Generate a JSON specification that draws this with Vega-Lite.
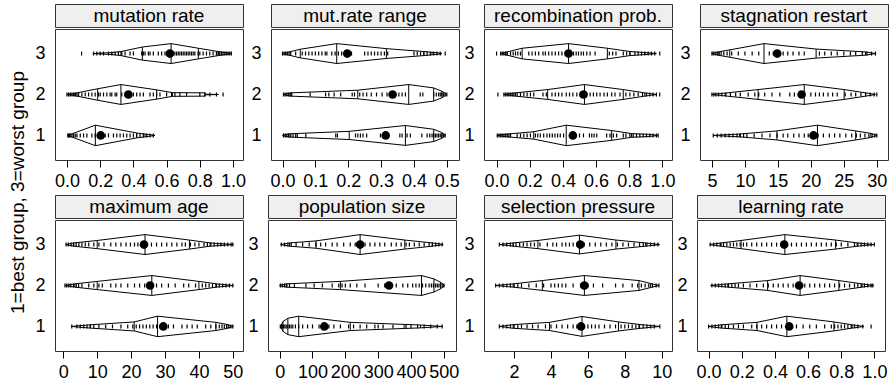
{
"$schema":"https://vega.github.io/schema/vega-lite/v6.json",
"padding":{"left":8,"top":3,"right":2,"bottom":0},
"title":{"text":"1=best group, 3=worst group","orient":"left","anchor":"middle","fontSize":19,"fontWeight":"normal","offset":4,"color":"black","font":"Liberation Sans"},
"spacing":3,
"vconcat":[
{"spacing":0,"hconcat":[
{"spacing":0,"vconcat":[
 {"width":188,"height":23,"view":{"fill":"#efefef","stroke":"#333333"},"data":{"values":[{"t":"mutation rate"}]},"mark":{"type":"text","fontSize":19,"color":"black"},"encoding":{"text":{"field":"t"}}},
 {"width":188,"height":131,"layer":[
  {"data":{"name":"poly"},"transform":[{"filter":"datum.p==1"}],"mark":{"type":"area","fill":"transparent","stroke":"black","strokeWidth":1},"encoding":{"x":{"field":"x","type":"quantitative","title":null,"scale":{"domain":[-0.072,1.06],"nice":false,"zero":false},"axis":{"values":[0,0.2,0.4,0.6,0.8,1],"format":".1f","labelOverlap":false,"labelFlush":false}},"y":{"field":"lo","type":"quantitative","title":null,"stack":null,"scale":{"domain":[0.4,3.6],"nice":false,"zero":false},"axis":{"values":[1,2,3],"format":"d","labelOverlap":false}},"y2":{"field":"hi"},"detail":{"field":"g"}}},
  {"data":{"name":"poly"},"transform":[{"filter":"datum.p==1"}],"mark":{"type":"rule","color":"black","strokeWidth":1},"encoding":{"x":{"field":"x","type":"quantitative","title":null,"axis":{"values":[0,0.2,0.4,0.6,0.8,1],"format":".1f","labelOverlap":false,"labelFlush":false}},"y":{"field":"lo","type":"quantitative","title":null,"axis":{"values":[1,2,3],"format":"d","labelOverlap":false}},"y2":{"field":"hi"}}},
  {"data":{"name":"rug"},"transform":[{"filter":"datum.p==1"},{"flatten":["xs"]}],"mark":{"type":"tick","orient":"vertical","size":4,"thickness":1.2,"color":"black","opacity":1},"encoding":{"x":{"field":"xs","type":"quantitative","title":null,"axis":{"values":[0,0.2,0.4,0.6,0.8,1],"format":".1f","labelOverlap":false,"labelFlush":false}},"y":{"field":"g","type":"quantitative","title":null,"axis":{"values":[1,2,3],"format":"d","labelOverlap":false}}}},
  {"data":{"name":"mean"},"transform":[{"filter":"datum.p==1"}],"mark":{"type":"point","filled":true,"size":75,"color":"black","opacity":1},"encoding":{"x":{"field":"x","type":"quantitative","title":null,"axis":{"values":[0,0.2,0.4,0.6,0.8,1],"format":".1f","labelOverlap":false,"labelFlush":false}},"y":{"field":"g","type":"quantitative","title":null,"axis":{"values":[1,2,3],"format":"d","labelOverlap":false}}}}
 ]}
]},
{"spacing":0,"vconcat":[
 {"width":188,"height":23,"view":{"fill":"#efefef","stroke":"#333333"},"data":{"values":[{"t":"mut.rate range"}]},"mark":{"type":"text","fontSize":19,"color":"black"},"encoding":{"text":{"field":"t"}}},
 {"width":188,"height":131,"layer":[
  {"data":{"name":"poly"},"transform":[{"filter":"datum.p==2"}],"mark":{"type":"area","fill":"transparent","stroke":"black","strokeWidth":1},"encoding":{"x":{"field":"x","type":"quantitative","title":null,"scale":{"domain":[-0.035,0.537],"nice":false,"zero":false},"axis":{"values":[0,0.1,0.2,0.3,0.4,0.5],"format":".1f","labelOverlap":false,"labelFlush":false}},"y":{"field":"lo","type":"quantitative","title":null,"stack":null,"scale":{"domain":[0.4,3.6],"nice":false,"zero":false},"axis":{"values":[1,2,3],"format":"d","labelOverlap":false}},"y2":{"field":"hi"},"detail":{"field":"g"}}},
  {"data":{"name":"poly"},"transform":[{"filter":"datum.p==2"}],"mark":{"type":"rule","color":"black","strokeWidth":1},"encoding":{"x":{"field":"x","type":"quantitative","title":null,"axis":{"values":[0,0.1,0.2,0.3,0.4,0.5],"format":".1f","labelOverlap":false,"labelFlush":false}},"y":{"field":"lo","type":"quantitative","title":null,"axis":{"values":[1,2,3],"format":"d","labelOverlap":false}},"y2":{"field":"hi"}}},
  {"data":{"name":"rug"},"transform":[{"filter":"datum.p==2"},{"flatten":["xs"]}],"mark":{"type":"tick","orient":"vertical","size":4,"thickness":1.2,"color":"black","opacity":1},"encoding":{"x":{"field":"xs","type":"quantitative","title":null,"axis":{"values":[0,0.1,0.2,0.3,0.4,0.5],"format":".1f","labelOverlap":false,"labelFlush":false}},"y":{"field":"g","type":"quantitative","title":null,"axis":{"values":[1,2,3],"format":"d","labelOverlap":false}}}},
  {"data":{"name":"mean"},"transform":[{"filter":"datum.p==2"}],"mark":{"type":"point","filled":true,"size":75,"color":"black","opacity":1},"encoding":{"x":{"field":"x","type":"quantitative","title":null,"axis":{"values":[0,0.1,0.2,0.3,0.4,0.5],"format":".1f","labelOverlap":false,"labelFlush":false}},"y":{"field":"g","type":"quantitative","title":null,"axis":{"values":[1,2,3],"format":"d","labelOverlap":false}}}}
 ]}
]},
{"spacing":0,"vconcat":[
 {"width":188,"height":23,"view":{"fill":"#efefef","stroke":"#333333"},"data":{"values":[{"t":"recombination prob."}]},"mark":{"type":"text","fontSize":19,"color":"black"},"encoding":{"text":{"field":"t"}}},
 {"width":188,"height":131,"layer":[
  {"data":{"name":"poly"},"transform":[{"filter":"datum.p==3"}],"mark":{"type":"area","fill":"transparent","stroke":"black","strokeWidth":1},"encoding":{"x":{"field":"x","type":"quantitative","title":null,"scale":{"domain":[-0.076,1.058],"nice":false,"zero":false},"axis":{"values":[0,0.2,0.4,0.6,0.8,1],"format":".1f","labelOverlap":false,"labelFlush":false}},"y":{"field":"lo","type":"quantitative","title":null,"stack":null,"scale":{"domain":[0.4,3.6],"nice":false,"zero":false},"axis":{"values":[1,2,3],"format":"d","labelOverlap":false}},"y2":{"field":"hi"},"detail":{"field":"g"}}},
  {"data":{"name":"poly"},"transform":[{"filter":"datum.p==3"}],"mark":{"type":"rule","color":"black","strokeWidth":1},"encoding":{"x":{"field":"x","type":"quantitative","title":null,"axis":{"values":[0,0.2,0.4,0.6,0.8,1],"format":".1f","labelOverlap":false,"labelFlush":false}},"y":{"field":"lo","type":"quantitative","title":null,"axis":{"values":[1,2,3],"format":"d","labelOverlap":false}},"y2":{"field":"hi"}}},
  {"data":{"name":"rug"},"transform":[{"filter":"datum.p==3"},{"flatten":["xs"]}],"mark":{"type":"tick","orient":"vertical","size":4,"thickness":1.2,"color":"black","opacity":1},"encoding":{"x":{"field":"xs","type":"quantitative","title":null,"axis":{"values":[0,0.2,0.4,0.6,0.8,1],"format":".1f","labelOverlap":false,"labelFlush":false}},"y":{"field":"g","type":"quantitative","title":null,"axis":{"values":[1,2,3],"format":"d","labelOverlap":false}}}},
  {"data":{"name":"mean"},"transform":[{"filter":"datum.p==3"}],"mark":{"type":"point","filled":true,"size":75,"color":"black","opacity":1},"encoding":{"x":{"field":"x","type":"quantitative","title":null,"axis":{"values":[0,0.2,0.4,0.6,0.8,1],"format":".1f","labelOverlap":false,"labelFlush":false}},"y":{"field":"g","type":"quantitative","title":null,"axis":{"values":[1,2,3],"format":"d","labelOverlap":false}}}}
 ]}
]},
{"spacing":0,"vconcat":[
 {"width":188,"height":23,"view":{"fill":"#efefef","stroke":"#333333"},"data":{"values":[{"t":"stagnation restart"}]},"mark":{"type":"text","fontSize":19,"color":"black"},"encoding":{"text":{"field":"t"}}},
 {"width":188,"height":131,"layer":[
  {"data":{"name":"poly"},"transform":[{"filter":"datum.p==4"}],"mark":{"type":"area","fill":"transparent","stroke":"black","strokeWidth":1},"encoding":{"x":{"field":"x","type":"quantitative","title":null,"scale":{"domain":[3.19,31.7],"nice":false,"zero":false},"axis":{"values":[5,10,15,20,25,30],"format":"d","labelOverlap":false,"labelFlush":false}},"y":{"field":"lo","type":"quantitative","title":null,"stack":null,"scale":{"domain":[0.4,3.6],"nice":false,"zero":false},"axis":{"values":[1,2,3],"format":"d","labelOverlap":false}},"y2":{"field":"hi"},"detail":{"field":"g"}}},
  {"data":{"name":"poly"},"transform":[{"filter":"datum.p==4"}],"mark":{"type":"rule","color":"black","strokeWidth":1},"encoding":{"x":{"field":"x","type":"quantitative","title":null,"axis":{"values":[5,10,15,20,25,30],"format":"d","labelOverlap":false,"labelFlush":false}},"y":{"field":"lo","type":"quantitative","title":null,"axis":{"values":[1,2,3],"format":"d","labelOverlap":false}},"y2":{"field":"hi"}}},
  {"data":{"name":"rug"},"transform":[{"filter":"datum.p==4"},{"flatten":["xs"]}],"mark":{"type":"tick","orient":"vertical","size":4,"thickness":1.2,"color":"black","opacity":1},"encoding":{"x":{"field":"xs","type":"quantitative","title":null,"axis":{"values":[5,10,15,20,25,30],"format":"d","labelOverlap":false,"labelFlush":false}},"y":{"field":"g","type":"quantitative","title":null,"axis":{"values":[1,2,3],"format":"d","labelOverlap":false}}}},
  {"data":{"name":"mean"},"transform":[{"filter":"datum.p==4"}],"mark":{"type":"point","filled":true,"size":75,"color":"black","opacity":1},"encoding":{"x":{"field":"x","type":"quantitative","title":null,"axis":{"values":[5,10,15,20,25,30],"format":"d","labelOverlap":false,"labelFlush":false}},"y":{"field":"g","type":"quantitative","title":null,"axis":{"values":[1,2,3],"format":"d","labelOverlap":false}}}}
 ]}
]}
]},
{"spacing":0,"hconcat":[
{"spacing":0,"vconcat":[
 {"width":188,"height":23,"view":{"fill":"#efefef","stroke":"#333333"},"data":{"values":[{"t":"maximum age"}]},"mark":{"type":"text","fontSize":19,"color":"black"},"encoding":{"text":{"field":"t"}}},
 {"width":188,"height":131,"layer":[
  {"data":{"name":"poly"},"transform":[{"filter":"datum.p==5"}],"mark":{"type":"area","fill":"transparent","stroke":"black","strokeWidth":1},"encoding":{"x":{"field":"x","type":"quantitative","title":null,"scale":{"domain":[-2.45,53.0],"nice":false,"zero":false},"axis":{"values":[0,10,20,30,40,50],"format":"d","labelOverlap":false,"labelFlush":false}},"y":{"field":"lo","type":"quantitative","title":null,"stack":null,"scale":{"domain":[0.4,3.6],"nice":false,"zero":false},"axis":{"values":[1,2,3],"format":"d","labelOverlap":false}},"y2":{"field":"hi"},"detail":{"field":"g"}}},
  {"data":{"name":"poly"},"transform":[{"filter":"datum.p==5"}],"mark":{"type":"rule","color":"black","strokeWidth":1},"encoding":{"x":{"field":"x","type":"quantitative","title":null,"axis":{"values":[0,10,20,30,40,50],"format":"d","labelOverlap":false,"labelFlush":false}},"y":{"field":"lo","type":"quantitative","title":null,"axis":{"values":[1,2,3],"format":"d","labelOverlap":false}},"y2":{"field":"hi"}}},
  {"data":{"name":"rug"},"transform":[{"filter":"datum.p==5"},{"flatten":["xs"]}],"mark":{"type":"tick","orient":"vertical","size":4,"thickness":1.2,"color":"black","opacity":1},"encoding":{"x":{"field":"xs","type":"quantitative","title":null,"axis":{"values":[0,10,20,30,40,50],"format":"d","labelOverlap":false,"labelFlush":false}},"y":{"field":"g","type":"quantitative","title":null,"axis":{"values":[1,2,3],"format":"d","labelOverlap":false}}}},
  {"data":{"name":"mean"},"transform":[{"filter":"datum.p==5"}],"mark":{"type":"point","filled":true,"size":75,"color":"black","opacity":1},"encoding":{"x":{"field":"x","type":"quantitative","title":null,"axis":{"values":[0,10,20,30,40,50],"format":"d","labelOverlap":false,"labelFlush":false}},"y":{"field":"g","type":"quantitative","title":null,"axis":{"values":[1,2,3],"format":"d","labelOverlap":false}}}}
 ]}
]},
{"spacing":0,"vconcat":[
 {"width":188,"height":23,"view":{"fill":"#efefef","stroke":"#333333"},"data":{"values":[{"t":"population size"}]},"mark":{"type":"text","fontSize":19,"color":"black"},"encoding":{"text":{"field":"t"}}},
 {"width":188,"height":131,"layer":[
  {"data":{"name":"poly"},"transform":[{"filter":"datum.p==6"}],"mark":{"type":"area","fill":"transparent","stroke":"black","strokeWidth":1},"encoding":{"x":{"field":"x","type":"quantitative","title":null,"scale":{"domain":[-35.5,537],"nice":false,"zero":false},"axis":{"values":[0,100,200,300,400,500],"format":"d","labelOverlap":false,"labelFlush":false}},"y":{"field":"lo","type":"quantitative","title":null,"stack":null,"scale":{"domain":[0.4,3.6],"nice":false,"zero":false},"axis":{"values":[1,2,3],"format":"d","labelOverlap":false}},"y2":{"field":"hi"},"detail":{"field":"g"}}},
  {"data":{"name":"poly"},"transform":[{"filter":"datum.p==6"}],"mark":{"type":"rule","color":"black","strokeWidth":1},"encoding":{"x":{"field":"x","type":"quantitative","title":null,"axis":{"values":[0,100,200,300,400,500],"format":"d","labelOverlap":false,"labelFlush":false}},"y":{"field":"lo","type":"quantitative","title":null,"axis":{"values":[1,2,3],"format":"d","labelOverlap":false}},"y2":{"field":"hi"}}},
  {"data":{"name":"rug"},"transform":[{"filter":"datum.p==6"},{"flatten":["xs"]}],"mark":{"type":"tick","orient":"vertical","size":4,"thickness":1.2,"color":"black","opacity":1},"encoding":{"x":{"field":"xs","type":"quantitative","title":null,"axis":{"values":[0,100,200,300,400,500],"format":"d","labelOverlap":false,"labelFlush":false}},"y":{"field":"g","type":"quantitative","title":null,"axis":{"values":[1,2,3],"format":"d","labelOverlap":false}}}},
  {"data":{"name":"mean"},"transform":[{"filter":"datum.p==6"}],"mark":{"type":"point","filled":true,"size":75,"color":"black","opacity":1},"encoding":{"x":{"field":"x","type":"quantitative","title":null,"axis":{"values":[0,100,200,300,400,500],"format":"d","labelOverlap":false,"labelFlush":false}},"y":{"field":"g","type":"quantitative","title":null,"axis":{"values":[1,2,3],"format":"d","labelOverlap":false}}}}
 ]}
]},
{"spacing":0,"vconcat":[
 {"width":188,"height":23,"view":{"fill":"#efefef","stroke":"#333333"},"data":{"values":[{"t":"selection pressure"}]},"mark":{"type":"text","fontSize":19,"color":"black"},"encoding":{"text":{"field":"t"}}},
 {"width":188,"height":131,"layer":[
  {"data":{"name":"poly"},"transform":[{"filter":"datum.p==7"}],"mark":{"type":"area","fill":"transparent","stroke":"black","strokeWidth":1},"encoding":{"x":{"field":"x","type":"quantitative","title":null,"scale":{"domain":[0.367,10.56],"nice":false,"zero":false},"axis":{"values":[2,4,6,8,10],"format":"d","labelOverlap":false,"labelFlush":false}},"y":{"field":"lo","type":"quantitative","title":null,"stack":null,"scale":{"domain":[0.4,3.6],"nice":false,"zero":false},"axis":{"values":[1,2,3],"format":"d","labelOverlap":false}},"y2":{"field":"hi"},"detail":{"field":"g"}}},
  {"data":{"name":"poly"},"transform":[{"filter":"datum.p==7"}],"mark":{"type":"rule","color":"black","strokeWidth":1},"encoding":{"x":{"field":"x","type":"quantitative","title":null,"axis":{"values":[2,4,6,8,10],"format":"d","labelOverlap":false,"labelFlush":false}},"y":{"field":"lo","type":"quantitative","title":null,"axis":{"values":[1,2,3],"format":"d","labelOverlap":false}},"y2":{"field":"hi"}}},
  {"data":{"name":"rug"},"transform":[{"filter":"datum.p==7"},{"flatten":["xs"]}],"mark":{"type":"tick","orient":"vertical","size":4,"thickness":1.2,"color":"black","opacity":1},"encoding":{"x":{"field":"xs","type":"quantitative","title":null,"axis":{"values":[2,4,6,8,10],"format":"d","labelOverlap":false,"labelFlush":false}},"y":{"field":"g","type":"quantitative","title":null,"axis":{"values":[1,2,3],"format":"d","labelOverlap":false}}}},
  {"data":{"name":"mean"},"transform":[{"filter":"datum.p==7"}],"mark":{"type":"point","filled":true,"size":75,"color":"black","opacity":1},"encoding":{"x":{"field":"x","type":"quantitative","title":null,"axis":{"values":[2,4,6,8,10],"format":"d","labelOverlap":false,"labelFlush":false}},"y":{"field":"g","type":"quantitative","title":null,"axis":{"values":[1,2,3],"format":"d","labelOverlap":false}}}}
 ]}
]},
{"spacing":0,"vconcat":[
 {"width":188,"height":23,"view":{"fill":"#efefef","stroke":"#333333"},"data":{"values":[{"t":"learning rate"}]},"mark":{"type":"text","fontSize":19,"color":"black"},"encoding":{"text":{"field":"t"}}},
 {"width":188,"height":131,"layer":[
  {"data":{"name":"poly"},"transform":[{"filter":"datum.p==8"}],"mark":{"type":"area","fill":"transparent","stroke":"black","strokeWidth":1},"encoding":{"x":{"field":"x","type":"quantitative","title":null,"scale":{"domain":[-0.07,1.064],"nice":false,"zero":false},"axis":{"values":[0,0.2,0.4,0.6,0.8,1],"format":".1f","labelOverlap":false,"labelFlush":false}},"y":{"field":"lo","type":"quantitative","title":null,"stack":null,"scale":{"domain":[0.4,3.6],"nice":false,"zero":false},"axis":{"values":[1,2,3],"format":"d","labelOverlap":false}},"y2":{"field":"hi"},"detail":{"field":"g"}}},
  {"data":{"name":"poly"},"transform":[{"filter":"datum.p==8"}],"mark":{"type":"rule","color":"black","strokeWidth":1},"encoding":{"x":{"field":"x","type":"quantitative","title":null,"axis":{"values":[0,0.2,0.4,0.6,0.8,1],"format":".1f","labelOverlap":false,"labelFlush":false}},"y":{"field":"lo","type":"quantitative","title":null,"axis":{"values":[1,2,3],"format":"d","labelOverlap":false}},"y2":{"field":"hi"}}},
  {"data":{"name":"rug"},"transform":[{"filter":"datum.p==8"},{"flatten":["xs"]}],"mark":{"type":"tick","orient":"vertical","size":4,"thickness":1.2,"color":"black","opacity":1},"encoding":{"x":{"field":"xs","type":"quantitative","title":null,"axis":{"values":[0,0.2,0.4,0.6,0.8,1],"format":".1f","labelOverlap":false,"labelFlush":false}},"y":{"field":"g","type":"quantitative","title":null,"axis":{"values":[1,2,3],"format":"d","labelOverlap":false}}}},
  {"data":{"name":"mean"},"transform":[{"filter":"datum.p==8"}],"mark":{"type":"point","filled":true,"size":75,"color":"black","opacity":1},"encoding":{"x":{"field":"x","type":"quantitative","title":null,"axis":{"values":[0,0.2,0.4,0.6,0.8,1],"format":".1f","labelOverlap":false,"labelFlush":false}},"y":{"field":"g","type":"quantitative","title":null,"axis":{"values":[1,2,3],"format":"d","labelOverlap":false}}}}
 ]}
]}
]}
],
"datasets":{
"poly":[
{"p":1,"g":3,"x":0.156,"lo":3,"hi":3},{"p":1,"g":3,"x":0.27,"lo":2.976,"hi":3.024},{"p":1,"g":3,"x":0.325,"lo":2.951,"hi":3.049},{"p":1,"g":3,"x":0.454,"lo":2.84,"hi":3.16},{"p":1,"g":3,"x":0.627,"lo":2.757,"hi":3.243},{"p":1,"g":3,"x":0.791,"lo":2.87,"hi":3.13},{"p":1,"g":3,"x":0.912,"lo":2.951,"hi":3.049},{"p":1,"g":3,"x":0.992,"lo":3,"hi":3},
{"p":1,"g":2,"x":0.0,"lo":2,"hi":2},{"p":1,"g":2,"x":0.048,"lo":1.97,"hi":2.03},{"p":1,"g":2,"x":0.185,"lo":1.86,"hi":2.14},{"p":1,"g":2,"x":0.325,"lo":1.757,"hi":2.243},{"p":1,"g":2,"x":0.54,"lo":1.887,"hi":2.113},{"p":1,"g":2,"x":0.635,"lo":1.955,"hi":2.045},{"p":1,"g":2,"x":0.831,"lo":1.96,"hi":2.04},{"p":1,"g":2,"x":0.84,"lo":1.992,"hi":2.008},{"p":1,"g":2,"x":0.912,"lo":2,"hi":2},
{"p":1,"g":1,"x":0.004,"lo":1,"hi":1},{"p":1,"g":1,"x":0.171,"lo":0.75,"hi":1.25},{"p":1,"g":1,"x":0.42,"lo":0.94,"hi":1.06},{"p":1,"g":1,"x":0.47,"lo":0.965,"hi":1.035},{"p":1,"g":1,"x":0.53,"lo":1,"hi":1},
{"p":2,"g":3,"x":0.0,"lo":3,"hi":3},{"p":2,"g":3,"x":0.054,"lo":2.895,"hi":3.105},{"p":2,"g":3,"x":0.165,"lo":2.757,"hi":3.243},{"p":2,"g":3,"x":0.316,"lo":2.88,"hi":3.12},{"p":2,"g":3,"x":0.43,"lo":2.95,"hi":3.05},{"p":2,"g":3,"x":0.455,"lo":2.97,"hi":3.03},{"p":2,"g":3,"x":0.48,"lo":2.99,"hi":3.01},{"p":2,"g":3,"x":0.485,"lo":3,"hi":3},
{"p":2,"g":2,"x":0.003,"lo":2,"hi":2},{"p":2,"g":2,"x":0.025,"lo":1.96,"hi":2.04},{"p":2,"g":2,"x":0.229,"lo":1.895,"hi":2.105},{"p":2,"g":2,"x":0.384,"lo":1.757,"hi":2.243},{"p":2,"g":2,"x":0.46,"lo":1.84,"hi":2.16},{"p":2,"g":2,"x":0.485,"lo":1.92,"hi":2.08},{"p":2,"g":2,"x":0.5,"lo":2,"hi":2},
{"p":2,"g":1,"x":0.0,"lo":1,"hi":1},{"p":2,"g":1,"x":0.02,"lo":0.96,"hi":1.04},{"p":2,"g":1,"x":0.203,"lo":0.9,"hi":1.1},{"p":2,"g":1,"x":0.374,"lo":0.757,"hi":1.243},{"p":2,"g":1,"x":0.46,"lo":0.85,"hi":1.15},{"p":2,"g":1,"x":0.485,"lo":0.93,"hi":1.07},{"p":2,"g":1,"x":0.495,"lo":1,"hi":1},
{"p":3,"g":3,"x":0.024,"lo":3,"hi":3},{"p":3,"g":3,"x":0.064,"lo":2.96,"hi":3.04},{"p":3,"g":3,"x":0.154,"lo":2.87,"hi":3.13},{"p":3,"g":3,"x":0.434,"lo":2.757,"hi":3.243},{"p":3,"g":3,"x":0.668,"lo":2.87,"hi":3.13},{"p":3,"g":3,"x":0.804,"lo":2.95,"hi":3.05},{"p":3,"g":3,"x":0.894,"lo":2.975,"hi":3.025},{"p":3,"g":3,"x":0.964,"lo":3,"hi":3},
{"p":3,"g":2,"x":0.044,"lo":2,"hi":2},{"p":3,"g":2,"x":0.114,"lo":1.96,"hi":2.04},{"p":3,"g":2,"x":0.308,"lo":1.88,"hi":2.12},{"p":3,"g":2,"x":0.53,"lo":1.757,"hi":2.243},{"p":3,"g":2,"x":0.764,"lo":1.88,"hi":2.12},{"p":3,"g":2,"x":0.894,"lo":1.96,"hi":2.04},{"p":3,"g":2,"x":0.964,"lo":2,"hi":2},
{"p":3,"g":1,"x":0.004,"lo":1,"hi":1},{"p":3,"g":1,"x":0.054,"lo":0.97,"hi":1.03},{"p":3,"g":1,"x":0.224,"lo":0.91,"hi":1.09},{"p":3,"g":1,"x":0.42,"lo":0.75,"hi":1.25},{"p":3,"g":1,"x":0.694,"lo":0.88,"hi":1.12},{"p":3,"g":1,"x":0.814,"lo":0.955,"hi":1.045},{"p":3,"g":1,"x":0.924,"lo":0.975,"hi":1.025},{"p":3,"g":1,"x":0.974,"lo":1,"hi":1},
{"p":4,"g":3,"x":5.0,"lo":3,"hi":3},{"p":4,"g":3,"x":5.95,"lo":2.96,"hi":3.04},{"p":4,"g":3,"x":7.7,"lo":2.91,"hi":3.09},{"p":4,"g":3,"x":12.9,"lo":2.757,"hi":3.243},{"p":4,"g":3,"x":20.8,"lo":2.89,"hi":3.11},{"p":4,"g":3,"x":28.3,"lo":2.96,"hi":3.04},{"p":4,"g":3,"x":29.8,"lo":3,"hi":3},
{"p":4,"g":2,"x":5.0,"lo":2,"hi":2},{"p":4,"g":2,"x":7.0,"lo":1.965,"hi":2.035},{"p":4,"g":2,"x":12.0,"lo":1.88,"hi":2.12},{"p":4,"g":2,"x":19.0,"lo":1.757,"hi":2.243},{"p":4,"g":2,"x":25.05,"lo":1.88,"hi":2.12},{"p":4,"g":2,"x":28.3,"lo":1.96,"hi":2.04},{"p":4,"g":2,"x":29.8,"lo":2,"hi":2},
{"p":4,"g":1,"x":5.2,"lo":1,"hi":1},{"p":4,"g":1,"x":9.2,"lo":0.965,"hi":1.035},{"p":4,"g":1,"x":14.85,"lo":0.89,"hi":1.11},{"p":4,"g":1,"x":21.0,"lo":0.75,"hi":1.25},{"p":4,"g":1,"x":26.8,"lo":0.89,"hi":1.11},{"p":4,"g":1,"x":29.1,"lo":0.95,"hi":1.05},{"p":4,"g":1,"x":30.0,"lo":1,"hi":1},
{"p":5,"g":3,"x":0.8,"lo":3,"hi":3},{"p":5,"g":3,"x":3.1,"lo":2.96,"hi":3.04},{"p":5,"g":3,"x":10.0,"lo":2.9,"hi":3.1},{"p":5,"g":3,"x":24.1,"lo":2.757,"hi":3.243},{"p":5,"g":3,"x":37.2,"lo":2.89,"hi":3.11},{"p":5,"g":3,"x":43.3,"lo":2.96,"hi":3.04},{"p":5,"g":3,"x":50.1,"lo":3,"hi":3},
{"p":5,"g":2,"x":0.5,"lo":2,"hi":2},{"p":5,"g":2,"x":3.4,"lo":1.96,"hi":2.04},{"p":5,"g":2,"x":10.0,"lo":1.9,"hi":2.1},{"p":5,"g":2,"x":26.1,"lo":1.757,"hi":2.243},{"p":5,"g":2,"x":40.0,"lo":1.9,"hi":2.1},{"p":5,"g":2,"x":45.2,"lo":1.96,"hi":2.04},{"p":5,"g":2,"x":50.1,"lo":2,"hi":2},
{"p":5,"g":1,"x":2.5,"lo":1,"hi":1},{"p":5,"g":1,"x":3.7,"lo":0.99,"hi":1.01},{"p":5,"g":1,"x":7.9,"lo":0.96,"hi":1.04},{"p":5,"g":1,"x":20.9,"lo":0.89,"hi":1.11},{"p":5,"g":1,"x":27.8,"lo":0.75,"hi":1.25},{"p":5,"g":1,"x":45.0,"lo":0.9,"hi":1.1},{"p":5,"g":1,"x":48.2,"lo":0.95,"hi":1.05},{"p":5,"g":1,"x":50.1,"lo":1,"hi":1},
{"p":6,"g":3,"x":3,"lo":3,"hi":3},{"p":6,"g":3,"x":30,"lo":2.96,"hi":3.04},{"p":6,"g":3,"x":111,"lo":2.91,"hi":3.09},{"p":6,"g":3,"x":245,"lo":2.757,"hi":3.243},{"p":6,"g":3,"x":381,"lo":2.89,"hi":3.11},{"p":6,"g":3,"x":465,"lo":2.96,"hi":3.04},{"p":6,"g":3,"x":498,"lo":3,"hi":3},
{"p":6,"g":2,"x":0,"lo":2,"hi":2},{"p":6,"g":2,"x":20,"lo":1.96,"hi":2.04},{"p":6,"g":2,"x":185,"lo":1.9,"hi":2.1},{"p":6,"g":2,"x":432,"lo":1.757,"hi":2.243},{"p":6,"g":2,"x":470,"lo":1.84,"hi":2.16},{"p":6,"g":2,"x":490,"lo":1.92,"hi":2.08},{"p":6,"g":2,"x":503,"lo":2,"hi":2},
{"p":6,"g":1,"x":3,"lo":1,"hi":1},{"p":6,"g":1,"x":10,"lo":0.88,"hi":1.12},{"p":6,"g":1,"x":25,"lo":0.8,"hi":1.2},{"p":6,"g":1,"x":58,"lo":0.75,"hi":1.25},{"p":6,"g":1,"x":215,"lo":0.9,"hi":1.1},{"p":6,"g":1,"x":379,"lo":0.95,"hi":1.05},{"p":6,"g":1,"x":429,"lo":0.965,"hi":1.035},{"p":6,"g":1,"x":495,"lo":1,"hi":1},
{"p":7,"g":3,"x":1.23,"lo":3,"hi":3},{"p":7,"g":3,"x":1.95,"lo":2.96,"hi":3.04},{"p":7,"g":3,"x":3.29,"lo":2.9,"hi":3.1},{"p":7,"g":3,"x":5.54,"lo":2.77,"hi":3.23},{"p":7,"g":3,"x":7.52,"lo":2.89,"hi":3.11},{"p":7,"g":3,"x":9.13,"lo":2.96,"hi":3.04},{"p":7,"g":3,"x":9.89,"lo":3,"hi":3},
{"p":7,"g":2,"x":1.01,"lo":2,"hi":2},{"p":7,"g":2,"x":1.95,"lo":1.96,"hi":2.04},{"p":7,"g":2,"x":3.53,"lo":1.88,"hi":2.12},{"p":7,"g":2,"x":5.81,"lo":1.757,"hi":2.243},{"p":7,"g":2,"x":8.77,"lo":1.88,"hi":2.12},{"p":7,"g":2,"x":9.4,"lo":1.95,"hi":2.05},{"p":7,"g":2,"x":9.85,"lo":2,"hi":2},
{"p":7,"g":1,"x":1.23,"lo":1,"hi":1},{"p":7,"g":1,"x":1.95,"lo":0.955,"hi":1.045},{"p":7,"g":1,"x":3.92,"lo":0.9,"hi":1.1},{"p":7,"g":1,"x":5.68,"lo":0.757,"hi":1.243},{"p":7,"g":1,"x":7.66,"lo":0.89,"hi":1.11},{"p":7,"g":1,"x":8.77,"lo":0.95,"hi":1.05},{"p":7,"g":1,"x":9.89,"lo":1,"hi":1},
{"p":8,"g":3,"x":0.006,"lo":3,"hi":3},{"p":8,"g":3,"x":0.076,"lo":2.96,"hi":3.04},{"p":8,"g":3,"x":0.196,"lo":2.9,"hi":3.1},{"p":8,"g":3,"x":0.46,"lo":2.757,"hi":3.243},{"p":8,"g":3,"x":0.766,"lo":2.89,"hi":3.11},{"p":8,"g":3,"x":0.896,"lo":2.96,"hi":3.04},{"p":8,"g":3,"x":0.996,"lo":3,"hi":3},
{"p":8,"g":2,"x":0.012,"lo":2,"hi":2},{"p":8,"g":2,"x":0.116,"lo":1.96,"hi":2.04},{"p":8,"g":2,"x":0.356,"lo":1.88,"hi":2.12},{"p":8,"g":2,"x":0.552,"lo":1.757,"hi":2.243},{"p":8,"g":2,"x":0.786,"lo":1.88,"hi":2.12},{"p":8,"g":2,"x":0.926,"lo":1.96,"hi":2.04},{"p":8,"g":2,"x":0.996,"lo":2,"hi":2},
{"p":8,"g":1,"x":0.0,"lo":1,"hi":1},{"p":8,"g":1,"x":0.076,"lo":0.96,"hi":1.04},{"p":8,"g":1,"x":0.292,"lo":0.9,"hi":1.1},{"p":8,"g":1,"x":0.472,"lo":0.75,"hi":1.25},{"p":8,"g":1,"x":0.756,"lo":0.89,"hi":1.11},{"p":8,"g":1,"x":0.866,"lo":0.96,"hi":1.04},{"p":8,"g":1,"x":0.936,"lo":1,"hi":1}
],
"rug":[
{"p":1,"g":3,"xs":[0.088,0.16,0.18,0.2,0.22,0.25,0.27,0.29,0.31,0.33,0.35,0.38,0.4,0.45,0.46,0.47,0.49,0.5,0.52,0.55,0.57,0.59,0.6,0.62,0.64,0.65,0.66,0.67,0.68,0.69,0.7,0.71,0.72,0.73,0.74,0.75,0.76,0.77,0.79,0.8,0.82,0.84,0.86,0.88,0.9,0.91,0.92,0.93,0.94,0.95,0.96,0.97,0.98,0.99]},
{"p":1,"g":2,"xs":[0.0,0.01,0.02,0.03,0.04,0.05,0.06,0.07,0.09,0.11,0.13,0.15,0.17,0.19,0.2,0.22,0.24,0.26,0.27,0.29,0.3,0.33,0.35,0.37,0.4,0.42,0.44,0.46,0.5,0.52,0.54,0.56,0.6,0.63,0.65,0.68,0.72,0.8,0.83,0.86,0.9,0.94]},
{"p":1,"g":1,"xs":[0.005,0.01,0.015,0.02,0.03,0.04,0.05,0.06,0.08,0.1,0.12,0.15,0.17,0.19,0.21,0.23,0.25,0.28,0.3,0.32,0.34,0.36,0.38,0.4,0.42,0.44,0.46,0.48,0.5,0.52]},
{"p":2,"g":3,"xs":[0.0,0.005,0.01,0.015,0.02,0.025,0.04,0.06,0.07,0.08,0.09,0.1,0.11,0.12,0.13,0.135,0.15,0.16,0.17,0.18,0.2,0.21,0.25,0.26,0.27,0.28,0.29,0.3,0.31,0.32,0.4,0.41,0.42,0.43,0.44,0.45,0.46,0.47,0.48,0.495]},
{"p":2,"g":2,"xs":[0.003,0.008,0.013,0.018,0.023,0.028,0.084,0.131,0.141,0.157,0.177,0.212,0.219,0.235,0.245,0.256,0.27,0.286,0.303,0.318,0.328,0.343,0.354,0.364,0.374,0.419,0.427,0.46,0.468,0.475,0.48,0.485,0.49,0.495,0.5]},
{"p":2,"g":1,"xs":[0.003,0.008,0.013,0.018,0.025,0.032,0.04,0.045,0.071,0.162,0.167,0.222,0.229,0.237,0.245,0.256,0.298,0.31,0.357,0.364,0.379,0.389,0.424,0.44,0.448,0.455,0.46,0.465,0.47,0.475,0.48,0.485,0.49,0.495]},
{"p":3,"g":3,"xs":[0.0,0.024,0.034,0.044,0.054,0.064,0.084,0.1,0.114,0.128,0.144,0.194,0.214,0.234,0.254,0.28,0.294,0.314,0.334,0.354,0.374,0.394,0.414,0.45,0.464,0.48,0.494,0.51,0.524,0.544,0.564,0.594,0.68,0.7,0.72,0.764,0.784,0.804,0.834,0.854,0.874,0.894,0.914,0.934,0.954,0.984]},
{"p":3,"g":2,"xs":[0.008,0.044,0.054,0.064,0.074,0.084,0.094,0.104,0.124,0.144,0.164,0.184,0.204,0.224,0.28,0.3,0.334,0.354,0.374,0.394,0.42,0.44,0.46,0.484,0.504,0.544,0.564,0.584,0.604,0.624,0.648,0.668,0.694,0.714,0.744,0.78,0.804,0.828,0.854,0.88,0.904,0.924,0.944,0.964,0.984]},
{"p":3,"g":1,"xs":[0.004,0.014,0.024,0.034,0.044,0.054,0.064,0.074,0.084,0.124,0.144,0.164,0.184,0.204,0.234,0.248,0.264,0.284,0.304,0.32,0.336,0.352,0.368,0.384,0.404,0.5,0.524,0.56,0.574,0.588,0.604,0.664,0.684,0.704,0.724,0.764,0.78,0.804,0.824,0.844,0.864,0.884,0.904,0.924,0.944,0.964,0.974]},
{"p":4,"g":3,"xs":[5.0,5.2,5.5,5.8,6.1,6.4,6.8,7.3,8.0,9.0,10.0,11.1,12.1,13.7,14.3,14.8,15.2,15.8,16.5,17.3,18.2,19.0,21.3,22.1,23.1,24.0,25.0,26.0,26.8,27.8,28.5,29.2,29.8]},
{"p":4,"g":2,"xs":[5.0,5.3,5.6,6.0,6.5,7.1,7.8,8.6,9.3,10.5,11.5,12.1,13.0,14.1,15.3,16.8,17.5,18.6,20.0,20.7,21.3,21.9,22.6,23.3,24.0,25.2,26.1,26.8,27.6,28.3,29.0,29.6,30.0]},
{"p":4,"g":1,"xs":[5.2,5.8,6.4,7.0,7.6,8.2,8.8,9.3,9.8,10.3,11.4,12.6,13.8,14.9,15.8,16.5,17.4,18.2,19.0,19.6,20.4,21.1,21.9,22.8,23.6,24.4,25.3,26.2,26.9,27.5,28.2,28.8,29.3,29.7,30.0]},
{"p":5,"g":3,"xs":[0.8,1.5,2.3,3.0,3.8,4.6,5.5,6.5,7.5,9.0,10.5,12.0,14.0,15.5,17.0,18.5,19.8,21.0,22.0,23.0,24.5,26.0,27.5,29.0,30.5,32.0,33.5,35.0,36.0,37.5,38.8,40.0,41.5,42.5,43.5,44.5,45.5,46.5,47.5,48.5,49.5,50.0]},
{"p":5,"g":2,"xs":[0.5,1.0,1.6,2.2,3.0,3.8,4.5,5.5,7.5,9.0,10.5,11.5,14.0,15.5,17.0,19.0,21.0,22.5,24.0,25.5,27.5,29.0,31.0,33.0,35.5,37.0,39.0,41.0,42.0,43.0,44.0,45.0,46.0,47.0,48.0,49.0,50.0]},
{"p":5,"g":1,"xs":[2.5,4.0,5.0,6.0,7.0,8.0,9.0,10.5,12.5,14.5,17.0,19.0,20.5,21.5,22.5,23.5,24.5,25.5,26.5,27.5,28.5,29.5,31.0,32.5,35.0,36.5,38.0,39.5,42.0,43.5,45.0,46.0,46.8,47.5,48.2,48.8,49.4,50.0]},
{"p":6,"g":3,"xs":[5,15,25,35,50,70,90,110,125,140,160,175,195,215,230,240,250,260,275,290,305,320,340,355,370,385,395,410,425,440,455,465,475,485,495]},
{"p":6,"g":2,"xs":[2,8,15,22,30,45,80,105,130,160,180,190,200,215,235,260,300,320,335,355,375,390,405,415,425,435,445,455,462,468,475,480,485,490,495,500]},
{"p":6,"g":1,"xs":[2,5,8,12,16,20,25,30,35,40,48,58,70,85,100,120,135,150,165,185,210,225,245,265,290,300,315,345,385,400,420,440,460,480,495]},
{"p":7,"g":3,"xs":[1.2,1.4,1.6,1.8,1.95,2.1,2.3,2.5,2.7,2.9,3.1,3.4,3.8,4.1,4.3,4.6,4.8,5.0,5.2,5.4,5.6,5.8,6.1,6.4,6.7,7.0,7.3,7.6,7.9,8.2,8.5,8.8,9.0,9.2,9.4,9.6,9.8]},
{"p":7,"g":2,"xs":[1.0,1.2,1.4,1.6,1.8,2.0,2.2,2.4,2.8,3.2,3.6,4.0,4.2,4.4,4.6,4.8,5.2,5.6,5.8,6.0,6.3,6.8,7.5,7.9,8.4,8.7,8.9,9.1,9.3,9.5,9.7,9.85]},
{"p":7,"g":1,"xs":[1.2,1.4,1.6,1.8,2.0,2.2,2.4,2.7,3.0,3.3,3.7,4.0,4.3,4.6,4.9,5.2,5.4,5.6,5.8,6.0,6.2,6.4,6.6,6.9,7.2,7.5,7.8,8.0,8.2,8.4,8.6,8.8,9.0,9.2,9.4,9.6,9.9]},
{"p":8,"g":3,"xs":[0.01,0.03,0.05,0.07,0.09,0.11,0.13,0.15,0.17,0.19,0.21,0.23,0.26,0.29,0.32,0.35,0.38,0.41,0.44,0.47,0.5,0.53,0.56,0.59,0.62,0.65,0.68,0.71,0.74,0.77,0.8,0.84,0.88,0.9,0.92,0.94,0.96,0.98,1.0]},
{"p":8,"g":2,"xs":[0.02,0.04,0.06,0.08,0.1,0.12,0.14,0.16,0.18,0.21,0.25,0.29,0.33,0.36,0.39,0.42,0.45,0.48,0.51,0.54,0.58,0.61,0.64,0.67,0.7,0.73,0.76,0.79,0.82,0.85,0.88,0.9,0.92,0.94,0.96,0.98,0.99]},
{"p":8,"g":1,"xs":[0.0,0.02,0.04,0.06,0.08,0.1,0.12,0.15,0.18,0.21,0.26,0.29,0.32,0.35,0.38,0.41,0.44,0.47,0.5,0.53,0.57,0.61,0.65,0.7,0.74,0.76,0.78,0.8,0.82,0.84,0.86,0.88,0.9,0.93,0.98]}
],
"mean":[
{"p":1,"g":3,"x":0.62},{"p":1,"g":2,"x":0.37},{"p":1,"g":1,"x":0.203},
{"p":2,"g":3,"x":0.197},{"p":2,"g":2,"x":0.335},{"p":2,"g":1,"x":0.314},
{"p":3,"g":3,"x":0.434},{"p":3,"g":2,"x":0.524},{"p":3,"g":1,"x":0.46},
{"p":4,"g":3,"x":14.9},{"p":4,"g":2,"x":18.6},{"p":4,"g":1,"x":20.4},
{"p":5,"g":3,"x":23.8},{"p":5,"g":2,"x":25.6},{"p":5,"g":1,"x":29.5},
{"p":6,"g":3,"x":245},{"p":6,"g":2,"x":333},{"p":6,"g":1,"x":136},
{"p":7,"g":3,"x":5.59},{"p":7,"g":2,"x":5.81},{"p":7,"g":1,"x":5.63},
{"p":8,"g":3,"x":0.456},{"p":8,"g":2,"x":0.546},{"p":8,"g":1,"x":0.486}
]
},
"config":{
"font":"Liberation Sans",
"view":{"stroke":"#333333","strokeWidth":1},
"axis":{"grid":false,"domain":false,"labelFontSize":18,"labelColor":"black","tickColor":"black","labelFont":"Liberation Sans","labelOverlap":false},
"axisX":{"tickSize":7,"labelPadding":5,"labelFlush":false,"labelOverlap":false},
"axisY":{"ticks":false,"labelPadding":10,"minExtent":23,"maxExtent":23,"labelOverlap":false}
}
}
